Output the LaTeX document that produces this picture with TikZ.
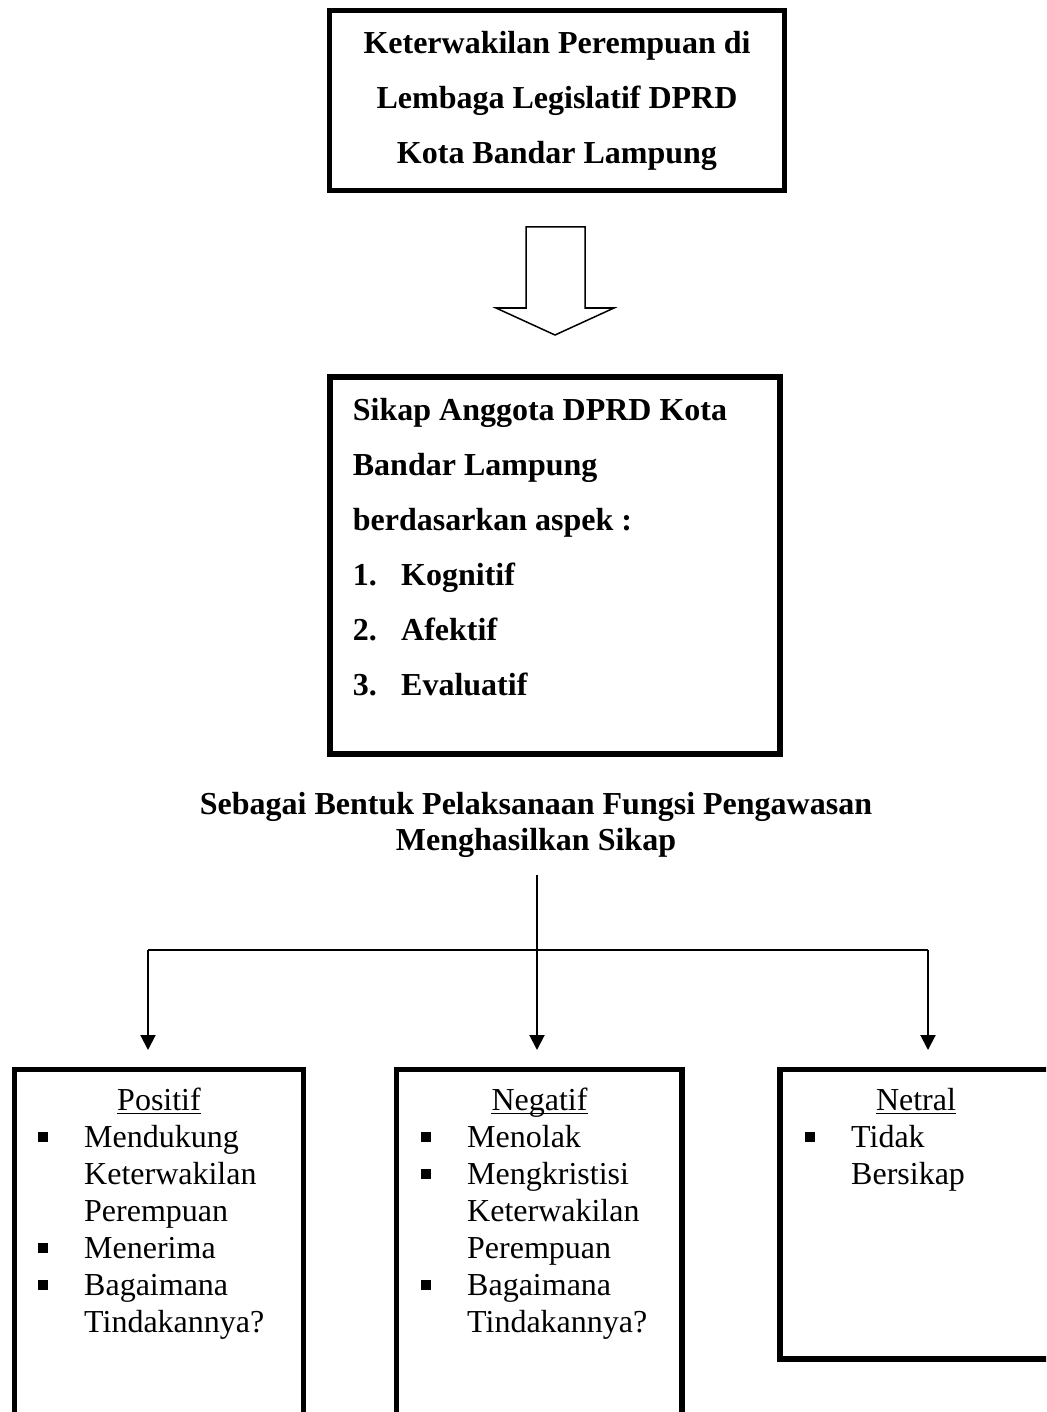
\documentclass[tikz,border=0pt]{standalone}
\usepackage{fontspec}
\setmainfont{Liberation Serif}
\usetikzlibrary{arrows.meta}
\newcommand{\bul}{\makebox[46pt][l]{\raisebox{5pt}{\rule{10pt}{10pt}}}}
\newcommand{\ind}{\hspace*{46pt}}
\newcommand{\numitem}[2]{\makebox[48.3pt][l]{#1}#2}
\begin{document}
\begin{tikzpicture}[x=1pt,y=-1pt,
  heavybox/.style={draw, line width=5.5pt, inner sep=0pt, outer sep=0pt, rectangle},
  bigbold/.style={inner sep=0pt, font=\fontsize{32}{55}\selectfont\bfseries},
  headtext/.style={inner sep=0pt, font=\fontsize{32}{36.5}\selectfont\bfseries},
  listtext/.style={inner sep=0pt, anchor=base west, font=\fontsize{32}{37}\selectfont},
  titletext/.style={inner sep=0pt, anchor=base, font=\fontsize{32}{37}\selectfont},
  uline/.style={line width=1.5pt},
  conn/.style={line width=2pt},
  arr/.style={conn, -{Triangle[width=15pt,length=15pt]}, shorten >=19.5pt},
  blockarrow/.style={draw, line width=1.5pt, line join=miter, fill=white}
]
\useasboundingbox (0,0) rectangle (1046,1412);
\clip (0,0) rectangle (1046,1412);
\fill[white] (0,0) rectangle (1046,1412);

% top box
\node[heavybox, minimum width=455pt, minimum height=180pt] (topbox) at (557,100.5) {};
\node[bigbold, anchor=base] (toptext) at (557,53.5)
  {\begin{tabular}[t]{@{}c@{}}Keterwakilan Perempuan di\\Lembaga Legislatif DPRD\\Kota Bandar Lampung\end{tabular}};

% block arrow
\path[blockarrow] (526,227) -- (585,227) -- (585,308) -- (614,308) -- (555,335)
  -- (496,308) -- (526,308) -- cycle;

% middle box
\node[heavybox, minimum width=450pt, minimum height=377pt] (midbox) at (555,565.5) {};
\node[bigbold, anchor=base west] (midtext) at (352.7,420)
  {\begin{tabular}[t]{@{}l@{}}Sikap Anggota DPRD Kota\\Bandar Lampung\\berdasarkan aspek :\\
   \numitem{1.}{Kognitif}\\\numitem{2.}{Afektif}\\\numitem{3.}{Evaluatif}\end{tabular}};

% heading
\node[headtext, anchor=base] (heading) at (536,814)
  {\begin{tabular}[t]{@{}c@{}}Sebagai Bentuk Pelaksanaan Fungsi Pengawasan\\Menghasilkan Sikap\end{tabular}};

% bottom boxes
\node[heavybox, minimum width=289pt, minimum height=430pt] (boxL) at (159,1284.5) {};
\node[heavybox, minimum width=285.5pt, minimum height=430pt] (boxM) at (539.25,1284.5) {};
\node[heavybox, minimum width=320pt, minimum height=289.5pt] (boxR) at (940,1214.25) {};

% connectors
\coordinate (stem) at (537,875);
\coordinate (bl) at (148,950);
\coordinate (br) at (928,950);
\draw[conn] (bl) -- (br);
\draw[arr] (stem) -- (stem |- boxM.north);
\draw[arr] (bl) -- (bl |- boxL.north);
\draw[arr] (br) -- (br |- boxR.north);

% bottom texts
\node[titletext] (tL) at (159,1110.5) {Positif};
\draw[uline] ([yshift=-3pt]tL.base west) -- ([yshift=-3pt]tL.base east);
\node[listtext] (lL) at (38,1147)
  {\begin{tabular}[t]{@{}l@{}}\bul Mendukung\\\ind Keterwakilan\\\ind Perempuan\\\bul Menerima\\\bul Bagaimana\\\ind Tindakannya?\end{tabular}};

\node[titletext] (tM) at (539.5,1110.5) {Negatif};
\draw[uline] ([yshift=-3pt]tM.base west) -- ([yshift=-3pt]tM.base east);
\node[listtext] (lM) at (421,1147)
  {\begin{tabular}[t]{@{}l@{}}\bul Menolak\\\bul Mengkristisi\\\ind Keterwakilan\\\ind Perempuan\\\bul Bagaimana\\\ind Tindakannya?\end{tabular}};

\node[titletext] (tR) at (916,1110.5) {Netral};
\draw[uline] ([yshift=-3pt]tR.base west) -- ([yshift=-3pt]tR.base east);
\node[listtext] (lR) at (805,1147)
  {\begin{tabular}[t]{@{}l@{}}\bul Tidak\\\ind Bersikap\end{tabular}};
\end{tikzpicture}
\end{document}
